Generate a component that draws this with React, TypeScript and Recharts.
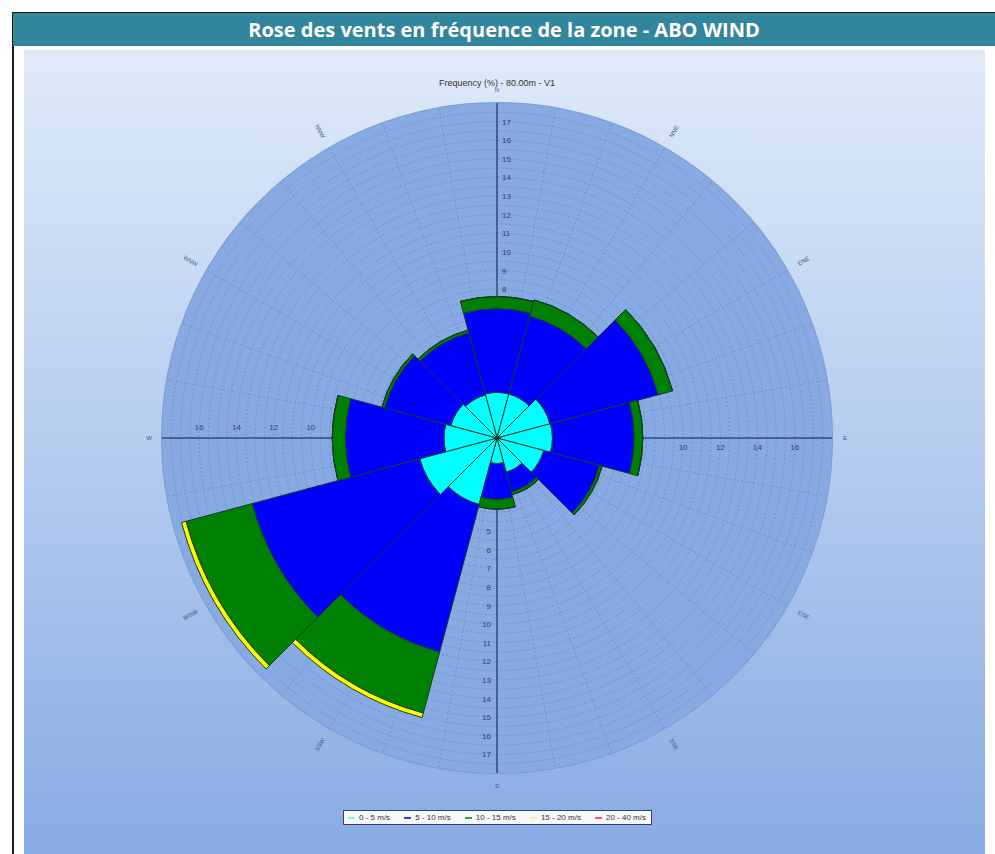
import {
  Legend,
  PolarAngleAxis,
  PolarGrid,
  PolarRadiusAxis,
  RadialBar,
  RadialBarChart,
} from "recharts";

// 12 direction sectors, frequency (%) per wind speed class
const directions = ["N", "NNE", "ENE", "E", "ESE", "SSE", "S", "SSW", "WSW", "W", "WNW", "NNW"];
const speed0to5 = [2.45, 2.45, 2.95, 2.98, 2.6, 1.9, 1.38, 3.7, 4.3, 2.85, 2.57, 2.4];
const speed5to10 = [4.5, 4.33, 6.02, 4.39, 3.1, 1.1, 1.92, 8.2, 9.32, 5.3, 3.68, 3.45];
const speed10to15 = [0.65, 0.9, 0.8, 0.46, 0.15, 0.15, 0.52, 3.4, 3.68, 0.7, 0.15, 0.15];
const speed15to20 = [0, 0, 0, 0, 0, 0, 0, 0.25, 0.25, 0, 0, 0];
const speed20to40 = [0, 0, 0, 0, 0, 0, 0, 0, 0, 0, 0, 0];

const speedClasses = ["0 - 5 m/s", "5 - 10 m/s", "10 - 15 m/s", "15 - 20 m/s", "20 - 40 m/s"];
const classColors = ["#00ffff", "#0000ff", "#008000", "#ffff00", "#ff0000"];
const legendColors = ["#8feeee", "#3c3ce6", "#3a9a3a", "#f2ee9a", "#ee5a5a"];

const northTicks = [8, 9, 10, 11, 12, 13, 14, 15, 16, 17];
const southTicks = [5, 6, 7, 8, 9, 10, 11, 12, 13, 14, 15, 16, 17];
const eastTicks = [10, 12, 14, 16];
const westTicks = [10, 12, 14, 16];

const radiusMax = 17.7;
const ringSteps = Array.from({ length: 35 }, (_, i) => (i + 1) * 0.5);
const spokeAngles = Array.from({ length: 36 }, (_, i) => i * 10);

const CX = 497;
const CY = 438;
const OUTER = 335;
const HALF_SECTOR = 180 / directions.length;

const rows = directions.map((dir, i) => ({
  dir,
  s1: speed0to5[i],
  s2: speed5to10[i],
  s3: speed10to15[i],
  s4: speed15to20[i],
  s5: speed20to40[i],
}));

const smallFont = "'Liberation Sans', Arial, sans-serif";

// direction names sit outside the disc, written along the spoke
const DirTick = (props: any) => {
  const { payload } = props;
  const label: string = payload.value;
  const a: number = payload.coordinate + HALF_SECTOR;
  const rad = (-a * Math.PI) / 180;
  const r = label.length === 1 ? OUTER + 13 : OUTER + 19;
  const px = CX + r * Math.cos(rad);
  const py = CY + r * Math.sin(rad);
  let rot = (((-a % 360) + 540) % 360) - 180;
  if (rot > 90) rot -= 180;
  if (rot <= -90) rot += 180;
  return (
    <text
      x={px}
      y={py}
      transform={label.length === 1 ? undefined : `rotate(${rot} ${px} ${py})`}
      textAnchor="middle"
      dominantBaseline="central"
      fontSize={6}
      fill="#4a5570"
      fontFamily={smallFont}
    >
      {label}
    </text>
  );
};

const radiusTick = (dx: number, dy: number, anchor: string) => (props: any) => (
  <text
    x={props.x + dx}
    y={props.y + dy}
    textAnchor={anchor}
    fontSize={8}
    fill="#35415c"
    fontFamily={smallFont}
  >
    {props.payload.value}
  </text>
);

const SpeedLegend = () => (
  <div
    style={{
      display: "flex",
      justifyContent: "space-between",
      alignItems: "center",
      boxSizing: "border-box",
      width: 309,
      height: 15,
      border: "1px solid #3b3f66",
      background: "#f7f8fb",
      padding: "0 5px 0 4px",
      fontSize: 8,
      color: "#333",
      fontFamily: smallFont,
      whiteSpace: "nowrap",
    }}
  >
    {speedClasses.map((label, i) => (
      <span key={label} style={{ display: "flex", alignItems: "center" }}>
        <span style={{ display: "inline-block", width: 7, height: 2, background: legendColors[i], marginRight: 4 }} />
        {label}
      </span>
    ))}
  </div>
);

export default function App() {
  return (
    <div style={{ position: "absolute", left: 0, top: 0, width: 995, height: 854, background: "#fff", overflow: "hidden" }}>
      {/* header */}
      <div style={{ position: "absolute", left: 12, top: 12, width: 983, height: 1, background: "#1a1a1a" }} />
      <div style={{ position: "absolute", left: 12, top: 12, width: 1.5, height: 842, background: "#1a1a1a" }} />
      <div
        style={{
          position: "absolute",
          left: 13,
          top: 13,
          width: 982,
          height: 33,
          background: "#31859c",
          color: "#fff",
          fontFamily: "'Open Sans', sans-serif",
          fontWeight: 700,
          fontSize: 20,
          lineHeight: "33px",
          textAlign: "center",
        }}
      >
        Rose des vents en fréquence de la zone - ABO WIND
      </div>
      {/* plot panel */}
      <div
        style={{
          position: "absolute",
          left: 24,
          top: 50,
          width: 961,
          height: 804,
          background: "linear-gradient(#dfeaf9, #b9cff0 45%, #87abe3)",
        }}
      />
      <div
        style={{
          position: "absolute",
          left: CX - OUTER,
          top: CY - OUTER,
          width: OUTER * 2,
          height: OUTER * 2,
          borderRadius: "50%",
          background: "#87aae2",
          boxShadow: "0 0 0 1px #7a9bd3",
        }}
      />
      <div
        style={{
          position: "absolute",
          left: CX - 100,
          top: 78,
          width: 200,
          textAlign: "center",
          fontSize: 9,
          color: "#333",
          fontFamily: smallFont,
        }}
      >
        Frequency (%) - 80.00m - V1
      </div>
      <RadialBarChart
        width={995}
        height={854}
        cx={CX}
        cy={CY}
        innerRadius={0}
        outerRadius={OUTER}
        startAngle={90 - HALF_SECTOR}
        endAngle={90 - HALF_SECTOR - 360}
        data={rows}
        layout="centric"
        barCategoryGap={0}
        barGap={0}
        margin={{ top: 0, right: 0, bottom: 0, left: 0 }}
        style={{ position: "absolute", left: 0, top: 0 }}
      >
        <PolarGrid gridType="circle" polarAngles={spokeAngles} stroke="#6a8dc8" strokeDasharray="2 2" strokeWidth={0.8} />
        <PolarGrid gridType="circle" polarAngles={[0, 90, 180, 270]} polarRadius={[]} stroke="#34507c" strokeWidth={1.6} />
        <PolarAngleAxis type="category" dataKey="dir" tick={DirTick} tickLine={false} axisLine={false} />
        <PolarRadiusAxis
          type="number"
          domain={[0, radiusMax]}
          allowDataOverflow
          ticks={ringSteps}
          tick={false}
          axisLine={false}
        />
        <RadialBar dataKey="s1" stackId="v" fill={classColors[0]} stroke="#173a26" strokeWidth={1} isAnimationActive={false} />
        <RadialBar dataKey="s2" stackId="v" fill={classColors[1]} stroke="#173a26" strokeWidth={1} isAnimationActive={false} />
        <RadialBar dataKey="s3" stackId="v" fill={classColors[2]} stroke="#173a26" strokeWidth={1} isAnimationActive={false} />
        <RadialBar dataKey="s4" stackId="v" fill={classColors[3]} stroke="#173a26" strokeWidth={1} isAnimationActive={false} />
        <PolarRadiusAxis radiusAxisId="n" angle={90} type="number" domain={[0, radiusMax]} allowDataOverflow ticks={northTicks} tick={radiusTick(5, 3, "start")} axisLine={false} />
        <PolarRadiusAxis radiusAxisId="s" angle={270} type="number" domain={[0, radiusMax]} allowDataOverflow ticks={southTicks} tick={radiusTick(-6, 3, "end")} axisLine={false} />
        <PolarRadiusAxis radiusAxisId="e" angle={0} type="number" domain={[0, radiusMax]} allowDataOverflow ticks={eastTicks} tick={radiusTick(0, 12, "middle")} axisLine={false} />
        <PolarRadiusAxis radiusAxisId="w" angle={180} type="number" domain={[0, radiusMax]} allowDataOverflow ticks={westTicks} tick={radiusTick(0, -8, "middle")} axisLine={false} />
        <Legend content={<SpeedLegend />} wrapperStyle={{ left: 343, top: 810, width: "auto", bottom: "auto" }} />
      </RadialBarChart>
    </div>
  );
}
